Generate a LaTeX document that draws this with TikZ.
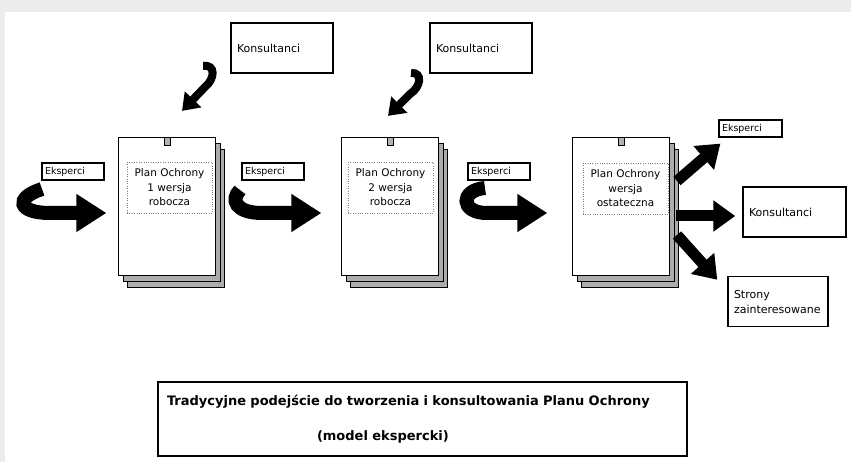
\documentclass[tikz,border=0pt]{standalone}
\usepackage{fontspec}
\setmainfont{DejaVu Sans}
\usetikzlibrary{arrows.meta,shadows}

\begin{document}
\begin{tikzpicture}[x=1pt,y=-1pt,
	plan/.style={draw,line width=1.2pt,fill=white,minimum width=97pt,minimum height=138pt,inner sep=0pt,
		double copy shadow={shadow xshift=4.5pt,shadow yshift=-6pt,fill=gray!65,draw=black,line width=0.8pt}},
	opis/.style={draw=gray,dotted,minimum width=85pt,minimum height=51pt,align=center,inner sep=0pt,
		font=\fontsize{10.5}{14.5}\selectfont},
	klips/.style={draw,fill=gray!60,minimum width=6pt,minimum height=8pt,inner sep=0pt,anchor=north},
	ramka/.style={draw,line width=1.5pt,minimum height=50pt,text width=90pt,inner xsep=6pt,align=left,
		font=\fontsize{11}{15}\selectfont},
	etykieta/.style={draw,line width=1.2pt,minimum height=17pt,text width=56pt,inner xsep=3pt,inner ysep=0pt,
		align=left,font=\fontsize{9.5}{11}\selectfont},
	gruba/.style={line width=14pt,-{Triangle[length=30pt,width=36pt]}},
	gorna/.style={line width=8pt,-{Triangle[length=16pt,width=22pt]}},
	prawa/.style={line width=11pt,-{Triangle[length=22pt,width=30pt]}}]
	% tlo
	\fill[gray!15] (0,0) rectangle (851,462);
	\fill[white] (5,12) rectangle (851,462);

	% plany ochrony
	\node[plan] (plan1) at (167,206.5) {};
	\node[plan] (plan2) at (390,206.5) {};
	\node[plan] (plan3) at (621,206.5) {};
	\node[klips] (klips1) at (plan1.north) {};
	\node[klips] (klips2) at (plan2.north) {};
	\node[klips] (klips3) at (plan3.north) {};
	\node[opis] (opis1) at (169.5,187.5) {Plan Ochrony\\1 wersja\\robocza};
	\node[opis] (opis2) at (390.5,187.5) {Plan Ochrony\\2 wersja\\robocza};
	\node[opis] (opis3) at (625.5,188.5) {Plan Ochrony\\wersja\\ostateczna};

	% eksperci nad strzalkami
	\node[etykieta] (eksp1) at (73,171.5) {Eksperci};
	\node[etykieta] (eksp2) at (273,171.5) {Eksperci};
	\node[etykieta] (eksp3) at (499,171.5) {Eksperci};

	% konsultanci u gory
	\node[ramka] (kons1) at (282,48) {Konsultanci};
	\node[ramka] (kons2) at (481,48) {Konsultanci};

	% odbiorcy po prawej
	\node[etykieta,text width=57pt] (ekspR) at (750.5,128.5) {Eksperci};
	\node[ramka,text width=91pt] (konsR) at (794.5,212) {Konsultanci};
	\node[ramka,text width=88pt] (stronyR) at (778,301.5) {Strony\\zainteresowane};

	% podpis
	\node[draw,line width=2pt,minimum width=529pt,minimum height=74pt,text width=511pt,inner xsep=9pt,
		align=left,font=\fontsize{13}{15.6}\selectfont\bfseries] (podpis) at (422.5,419)
		{Tradycyjne podejście do tworzenia i konsultowania Planu Ochrony\\[19pt]\hspace*{150pt}(model ekspercki)};

	% strzalki
	\coordinate (ogon1) at (42,189);
	\coordinate (ogon2) at (240,190);
	\coordinate (ogon3) at (485,188);
	\draw[gruba] (ogon1) .. controls (14,198) and (18,213) .. (50,213) -- ([xshift=-11.5pt,yshift=-6.5pt]plan1.west);
	\draw[gruba] (ogon2) .. controls (230,200) and (236,213) .. (262,213) -- ([xshift=-19.5pt,yshift=-6.5pt]plan2.west);
	\draw[gruba] (ogon3) .. controls (460,190) and (460,213) .. (487,213) -- ([xshift=-24.5pt,yshift=-6.5pt]plan3.west);

	\coordinate (zwoj1) at (203,66);
	\coordinate (zwoj2) at (411,73);
	\draw[gorna] (zwoj1) .. controls (216,64) and (215,79) .. (205,87) -- ([xshift=15pt,yshift=26pt]plan1.north);
	\draw[gorna] (zwoj2) .. controls (423,72) and (421,87) .. (410,94) -- ([xshift=-2pt,yshift=21pt]plan2.north);

	\coordinate (wyj1) at (677,181);
	\coordinate (wyj2) at (676,216);
	\coordinate (wyj3) at (677,235);
	\draw[prawa] (wyj1) -- ([xshift=2pt,yshift=-6pt]ekspR.south west);
	\draw[prawa] (wyj2) -- ([xshift=-7pt,yshift=-4pt]konsR.west);
	\draw[prawa] (wyj3) -- ([xshift=-10pt,yshift=-4pt]stronyR.north west);
\end{tikzpicture}
\end{document}
